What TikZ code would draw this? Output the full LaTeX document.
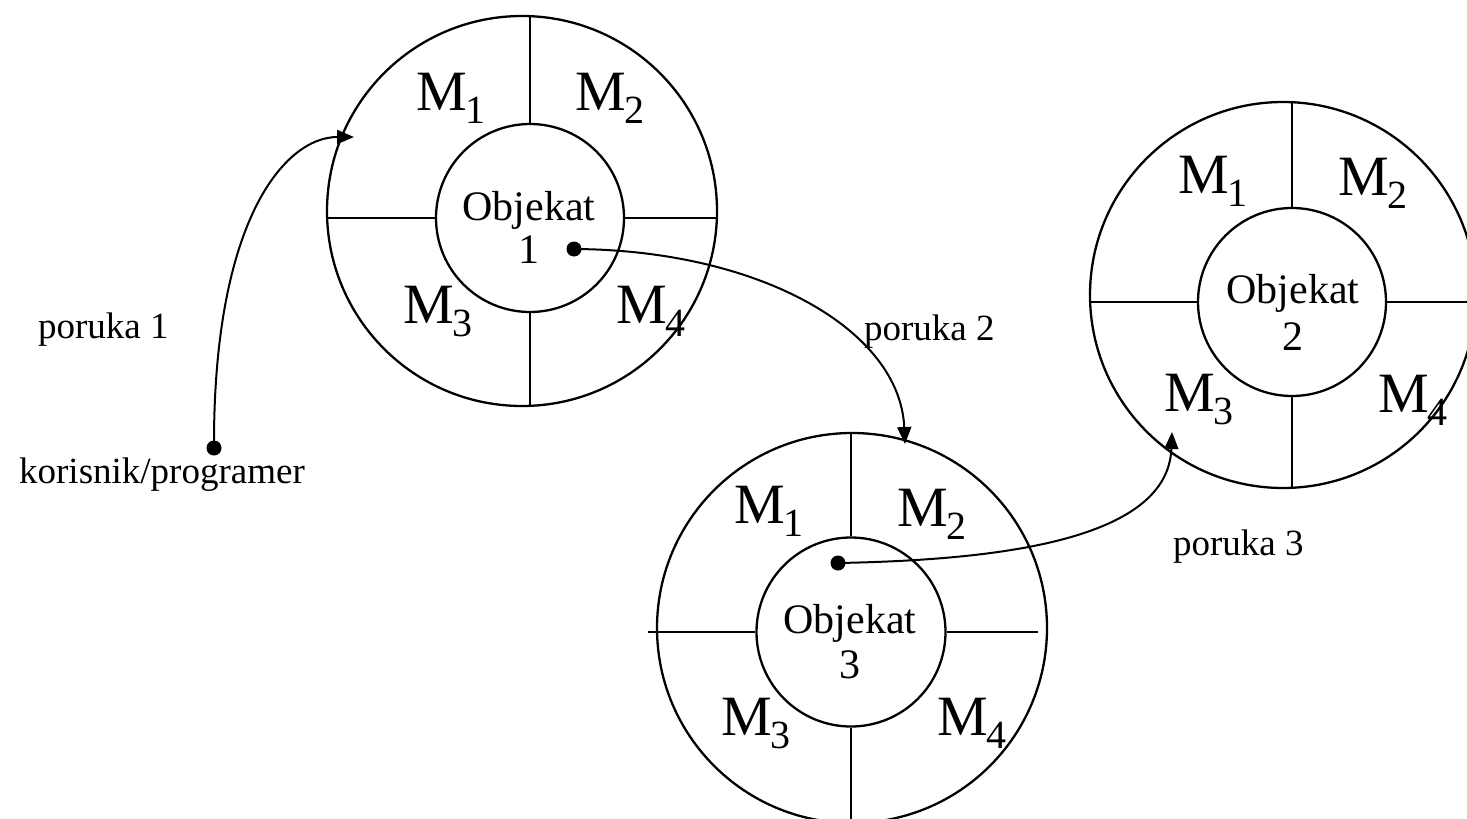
\documentclass[tikz,border=0pt]{standalone}
\usepackage{fontspec}
\setmainfont{Liberation Serif}
\usetikzlibrary{arrows.meta}

% method label with a lowered index: M_1 ... M_4
\newcommand\methodlbl[1]{M\kern-1pt\raisebox{-13pt}{\fontsize{40}{40}\selectfont #1}}

\begin{document}
\begin{tikzpicture}[x=1pt,y=-1pt,line width=2.3pt,
  ring/.style={draw,circle,inner sep=0pt,minimum size=#1},
  dot/.style={circle,fill,inner sep=0pt,minimum size=15pt},
  msg/.style={-{Triangle[length=17pt,width=14pt]},line width=2pt},
  mlabel/.style={anchor=base west,inner sep=0pt,font=\fontsize{57}{60}\selectfont},
  otext/.style={anchor=base,inner sep=0pt,font=\fontsize{42}{44}\selectfont},
  ptext/.style={anchor=base west,inner sep=0pt,font=\fontsize{37}{40}\selectfont}]
\useasboundingbox (0,0) rectangle (1467,819);
\clip (0,0) rectangle (1467,819);

% ---------- object 1 ----------
\node[ring=390pt] (o1) at (522,211) {};
\node[ring=188pt] (i1) at (530,218) {};
\draw (i1.north) -- (i1.north |- o1.north);
\draw (i1.south) -- (i1.south |- o1.south);
\draw (i1.west) -- (i1.west -| o1.west);
\draw (i1.east) -- (i1.east -| o1.east);
\node[otext] (t1a) at (529,220) {Objekat};
\node[otext] (t1b) at (529,263) {1};
\node[mlabel] (m11) at (415,110) {\methodlbl{1}};
\node[mlabel] (m12) at (574,110) {\methodlbl{2}};
\node[mlabel] (m13) at (402,323) {\methodlbl{3}};
\node[mlabel] (m14) at (615,323) {\methodlbl{4}};

% ---------- object 2 ----------
\node[ring=386pt] (o2) at (1283,295) {};
\node[ring=188pt] (i2) at (1292,302) {};
\draw (i2.north) -- (i2.north |- o2.north);
\draw (i2.south) -- (i2.south |- o2.south);
\draw (i2.west) -- (i2.west -| o2.west);
\draw (i2.east) -- (1467,302);
\node[otext] (t2a) at (1293,303) {Objekat};
\node[otext] (t2b) at (1293,350) {2};
\node[mlabel] (m21) at (1177,193) {\methodlbl{1}};
\node[mlabel] (m22) at (1337,195) {\methodlbl{2}};
\node[mlabel] (m23) at (1163,411) {\methodlbl{3}};
\node[mlabel] (m24) at (1377,412) {\methodlbl{4}};

% ---------- object 3 ----------
\node[ring=390pt] (o3) at (852,628) {};
\node[ring=189pt] (i3) at (851,632) {};
\draw (i3.north) -- (i3.north |- o3.north);
\draw (i3.south) -- (851,819);
\draw (i3.west) -- (648,632);
\draw (i3.east) -- (1038,632);
\node[otext] (t3a) at (850,633) {Objekat};
\node[otext] (t3b) at (850,678) {3};
\node[mlabel] (m31) at (733,523) {\methodlbl{1}};
\node[mlabel] (m32) at (896,526) {\methodlbl{2}};
\node[mlabel] (m33) at (720,735) {\methodlbl{3}};
\node[mlabel] (m34) at (936,735) {\methodlbl{4}};

% ---------- messages ----------
\node[dot] (user) at (214,448) {};
\node[dot] (d1) at (574,249) {};
\node[dot] (d3) at (838,563) {};
\coordinate (e1) at (354,137);
\coordinate (e2) at (905,444);
\coordinate (e3) at (1172,432);

\draw[msg] (user.center) .. controls (213,220) and (285,137) .. (e1);
\draw[msg] (d1.center) .. controls (760,250) and (900,330) .. (e2);
\draw[msg] (d3.center) .. controls (1000,560) and (1168,540) .. (e3);

\node[ptext] (p1) at (37,338) {poruka 1};
\node[ptext] (p2) at (863,340) {poruka 2};
\node[ptext] (p3) at (1172,555) {poruka 3};
\node[ptext] (usr) at (18,483) {korisnik/programer};
\end{tikzpicture}
\end{document}
